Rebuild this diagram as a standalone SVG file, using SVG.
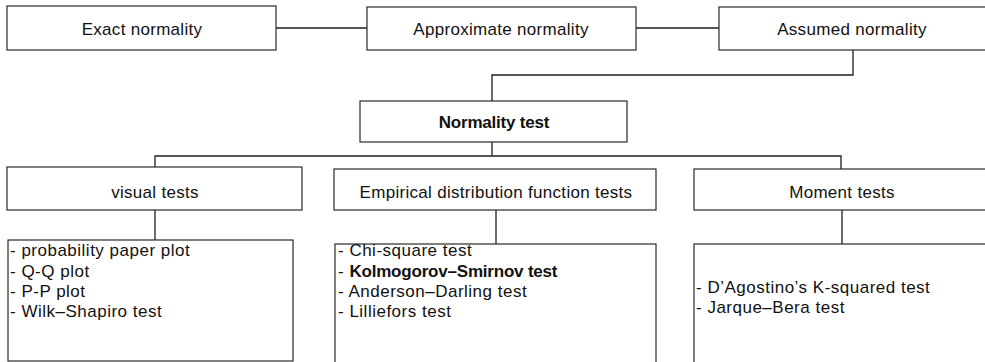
<svg xmlns="http://www.w3.org/2000/svg" width="985" height="362" viewBox="0 0 985 362">
<style>
.box{fill:#fff;stroke:#2a2a2a;stroke-width:1.2}
.ln{fill:none;stroke:#1e1e1e;stroke-width:1.3}
text{font-family:"Liberation Sans",Arial,sans-serif;font-size:17px;letter-spacing:0.3px;fill:#111}
.c{text-anchor:middle}
.b{font-weight:bold;letter-spacing:-0.2px}
.l{letter-spacing:0.5px}
</style>
<rect width="985" height="362" fill="#fff"/>
<g id="connectors">
<path class="ln" d="M276 28H367"/>
<path class="ln" d="M636 28H719"/>
<path class="ln" d="M853 50V75H492V101"/>
<path class="ln" d="M492 142V156"/>
<path class="ln" d="M155 167V156H841V169"/>
<path class="ln" d="M155 210V240"/>
<path class="ln" d="M496 210V244"/>
<path class="ln" d="M842 210V244"/>
</g>
<g id="exact"><rect class="box" x="7" y="6" width="269" height="44"/><text class="c" x="142" y="35">Exact  normality</text></g>
<g id="approx"><rect class="box" x="367" y="7" width="269" height="43"/><text class="c" x="501" y="35">Approximate normality</text></g>
<g id="assumed"><rect class="box" x="719" y="7" width="280" height="43"/><text class="c" x="852" y="35">Assumed normality</text></g>
<g id="normality"><rect class="box" x="360" y="101" width="267" height="41"/><text class="c b" x="494" y="128">Normality test</text></g>
<g id="visual"><rect class="box" x="7" y="167" width="295" height="43"/><text class="c" x="155" y="198">visual tests</text></g>
<g id="edf"><rect class="box" x="334" y="169" width="322" height="41"/><text class="c" x="496" y="198">Empirical distribution function tests</text></g>
<g id="moment"><rect class="box" x="694" y="169" width="300" height="41"/><text class="c" x="842" y="198">Moment tests</text></g>
<g id="visual-list"><rect class="box" x="8" y="240" width="285" height="121"/>
<text class="l" x="10" y="256">- probability paper plot</text>
<text class="l" x="10" y="277">- Q-Q plot</text>
<text class="l" x="10" y="297">- P-P plot</text>
<text class="l" x="10" y="317">- Wilk–Shapiro test</text></g>
<g id="edf-list"><rect class="box" x="335" y="244" width="321" height="130"/>
<text class="l" x="338" y="256">- Chi-square test</text>
<text class="l" x="338" y="277">- <tspan class="b">Kolmogorov–Smirnov test</tspan></text>
<text class="l" x="338" y="297">- Anderson–Darling test</text>
<text class="l" x="338" y="317">- Lilliefors test</text></g>
<g id="moment-list"><rect class="box" x="694" y="244" width="300" height="130"/>
<text class="l" x="696" y="293">- D’Agostino’s K-squared test</text>
<text class="l" x="696" y="313">- Jarque–Bera test</text></g>
</svg>
